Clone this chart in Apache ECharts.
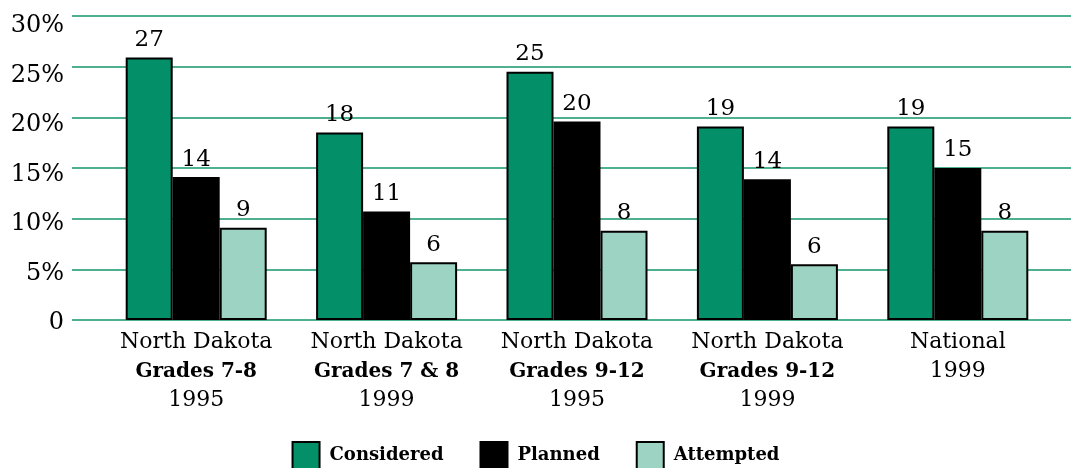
<!DOCTYPE html>
<html>
<head>
<meta charset="utf-8">
<script src="https://cdn.jsdelivr.net/npm/echarts@6/dist/echarts.min.js"></script>
<style>html,body{margin:0;padding:0;background:#fff;}#c{width:1071px;height:468px;}</style>
</head>
<body>
<div id="c"></div>
<script>
// Category labels: [line1, bold line2, line3]
const categoryLines = [
  ['North Dakota', 'Grades 7-8', '1995'],
  ['North Dakota', 'Grades 7 & 8', '1999'],
  ['North Dakota', 'Grades 9-12', '1995'],
  ['North Dakota', 'Grades 9-12', '1999'],
  ['National', '', '1999']
];
const seriesNames = ['Considered', 'Planned', 'Attempted'];
// Bar heights (percent) as drawn
const considered = [25.9, 18.5, 24.5, 19.1, 19.1];
const planned    = [14.1, 10.7, 19.6, 13.9, 15.0];
const attempted  = [9.1, 5.7, 8.8, 5.5, 8.8];
// Printed labels above bars
const consideredLabels = [27, 18, 25, 19, 19];
const plannedLabels    = [14, 11, 20, 14, 15];
const attemptedLabels  = [9, 6, 8, 6, 8];

const FONT = 'DejaVu Serif';
const colors = ['#038f68', '#000000', '#9cd3c3'];

const catLabels = categoryLines.map(l => l.filter(s => s).join('\n'));

function mkSeries(name, vals, labs, color) {
  return {
    name: name, type: 'bar', xAxisIndex: 1, yAxisIndex: 1,
    barWidth: 47, barGap: '0%',
    itemStyle: { color: color, borderColor: '#000', borderWidth: 2 },
    label: {
      show: true, position: 'top', distance: 6,
      fontFamily: FONT, fontSize: 23, color: '#000',
      formatter: p => String(labs[p.dataIndex])
    },
    data: vals
  };
}

const chart = echarts.init(document.getElementById('c'));
chart.setOption({
  animation: false,
  backgroundColor: '#fff',
  grid: [
    { left: 72, right: 0, top: 16, bottom: 148 },
    { left: 101, right: 18, top: 16, bottom: 148 },
    { left: 72, right: 0, top: 26, bottom: 145 }
  ],
  legend: {
    top: 436, left: 'center', itemWidth: 27, itemHeight: 27, itemGap: 36,
    icon: 'rect',
    textStyle: { fontFamily: FONT, fontWeight: 'bold', fontSize: 18, color: '#000', padding: [4, 0, 0, 5] },
    itemStyle: { borderColor: '#000', borderWidth: 2 },
    data: seriesNames
  },
  xAxis: [
    { type: 'value', gridIndex: 0, show: false, min: 0, max: 1 },
    {
      type: 'category', gridIndex: 1, data: catLabels,
      axisLine: { show: false }, axisTick: { show: false },
      axisLabel: {
        interval: 0, margin: 8, fontFamily: FONT, fontSize: 22, color: '#000', lineHeight: 29,
        formatter: function (v, i) {
          const l = categoryLines[i];
          if (!l[1]) return '{a|' + l[0] + '}\n{a|' + l[2] + '}';
          return '{a|' + l[0] + '}\n{b|' + l[1] + '}\n{a|' + l[2] + '}';
        },
        rich: {
          a: { fontFamily: FONT, fontSize: 22, color: '#000', lineHeight: 29 },
          b: { fontFamily: FONT, fontSize: 20, fontWeight: 'bold', color: '#000', lineHeight: 29 }
        }
      }
    },
    { type: 'value', gridIndex: 2, show: false, min: 0, max: 1 }
  ],
  yAxis: [
    {
      type: 'value', gridIndex: 0, min: 0, max: 30, interval: 5,
      axisLine: { show: false }, axisTick: { show: false }, axisLabel: { show: false },
      splitLine: { show: true, lineStyle: { color: '#4fb08f', width: 2 } }
    },
    { type: 'value', gridIndex: 1, min: 0, max: 30, interval: 5, show: false, splitLine: { show: false } },
    {
      type: 'value', gridIndex: 2, min: 0, max: 30, interval: 5,
      axisLine: { show: false }, axisTick: { show: false }, splitLine: { show: false },
      axisLabel: {
        margin: 8, fontFamily: FONT, fontSize: 24, color: '#000',
        formatter: v => v === 0 ? '0' : v + '%'
      }
    }
  ],
  series: [
    mkSeries(seriesNames[0], considered, consideredLabels, colors[0]),
    mkSeries(seriesNames[1], planned, plannedLabels, colors[1]),
    mkSeries(seriesNames[2], attempted, attemptedLabels, colors[2])
  ]
});
</script>
</body>
</html>
